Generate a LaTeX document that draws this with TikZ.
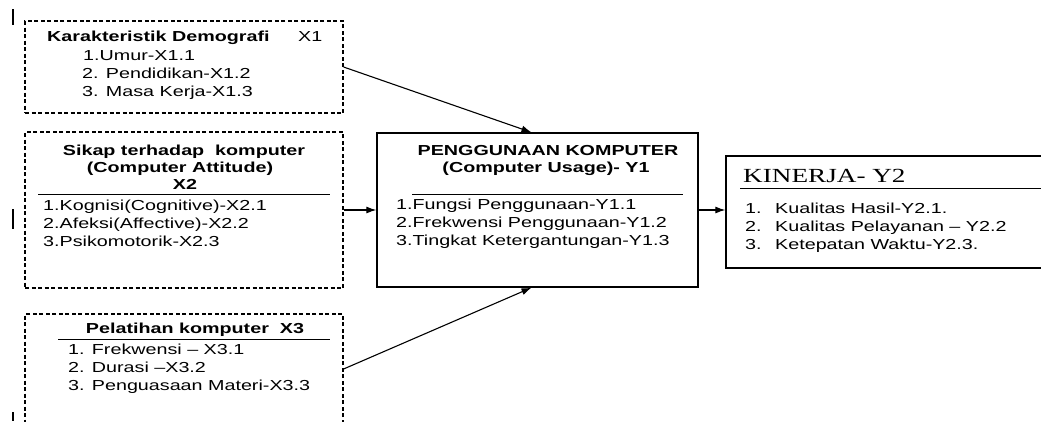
\documentclass[tikz,border=0pt]{standalone}
\usepackage{fontspec}
\setmainfont[FakeStretch=1.36]{Liberation Sans}
\newfontfamily\kinerjafont[FakeStretch=1.36]{Liberation Serif}
\usetikzlibrary{arrows.meta}
\tikzset{
  dbox/.style={draw, line width=1.2pt, dash pattern=on 4pt off 2.5pt},
  sbox/.style={draw, line width=1.3pt},
  txt/.style={inner sep=0pt, anchor=base west, font=\fontsize{14.5}{18}\selectfont},
  ttl/.style={inner sep=0pt, anchor=base, font=\fontsize{14.5}{18}\selectfont\bfseries},
  rule/.style={line width=1pt},
  arr/.style={-{Latex[length=10pt,width=7pt]}, line width=1.1pt}
}
\begin{document}
\begin{tikzpicture}[x=1pt,y=-1pt]
  \useasboundingbox (0,0) rectangle (1041,421);
  \clip (0,0) rectangle (1041,421);
  % boxes
  \node (x1) at (184,67) [dbox, minimum width=318pt, minimum height=92pt] {};
  \node (x2) at (184,210) [dbox, minimum width=318pt, minimum height=156pt] {};
  \node (x3) at (184,369) [dbox, minimum width=318pt, minimum height=110pt] {};
  \node (y1) at (537.5,210) [sbox, minimum width=321pt, minimum height=154pt] {};
  \node (y2) at (893,212) [sbox, minimum width=334pt, minimum height=112pt] {};
  % X1
  \node (x1t) at (47,41) [txt, font=\fontsize{14.5}{18}\selectfont\bfseries] {Karakteristik Demografi};
  \node (x1n) at (298,41) [txt] {X1};
  \node (x1a) at (83,60) [txt] {1.Umur-X1.1};
  \node (x1b) at (82,78) [txt] {2. Pendidikan-X1.2};
  \node (x1c) at (82,96) [txt] {3. Masa Kerja-X1.3};
  % X2
  \node (x2t) at (184,155) [ttl] {Sikap terhadap\ \ komputer};
  \node (x2u) at (180,172) [ttl] {(Computer Attitude)};
  \node (x2n) at (185,189) [ttl] {X2};
  \draw[rule] (38,194) -- (330,194);
  \node (x2a) at (43,210) [txt] {1.Kognisi(Cognitive)-X2.1};
  \node (x2b) at (43,228) [txt] {2.Afeksi(Affective)-X2.2};
  \node (x2c) at (43,246) [txt] {3.Psikomotorik-X2.3};
  % X3
  \node (x3t) at (195,333) [ttl] {Pelatihan komputer\ \ X3};
  \draw[rule] (58,339) -- (330,339);
  \node (x3a) at (68,354) [txt] {1. Frekwensi -- X3.1};
  \node (x3b) at (68,372) [txt] {2. Durasi --X3.2};
  \node (x3c) at (68,390) [txt] {3. Penguasaan Materi-X3.3};
  % Y1
  \node (y1t) at (548,155) [ttl] {PENGGUNAAN KOMPUTER};
  \node (y1u) at (546,172) [ttl] {(Computer Usage)- Y1};
  \draw[rule] (412,194) -- (683,194);
  \node (y1a) at (396,209) [txt] {1.Fungsi Penggunaan-Y1.1};
  \node (y1b) at (396,227) [txt] {2.Frekwensi Penggunaan-Y1.2};
  \node (y1c) at (396,245) [txt] {3.Tingkat Ketergantungan-Y1.3};
  % Y2
  \node (y2t) at (743,182) [inner sep=0pt, anchor=base west, font=\fontsize{20}{24}\kinerjafont] {KINERJA- Y2};
  \draw[rule] (740,188) -- (1041,188);
  \node (y2a) at (745,213) [txt] {1.};
  \node (y2b) at (745,231) [txt] {2.};
  \node (y2c) at (745,249) [txt] {3.};
  \node (y2d) at (775,213) [txt] {Kualitas Hasil-Y2.1.};
  \node (y2e) at (775,231) [txt] {Kualitas Pelayanan -- Y2.2};
  \node (y2f) at (775,249) [txt] {Ketepatan Waktu-Y2.3.};
  % arrows
  \draw[arr] (x1.east) -- ([xshift=-6pt]y1.north);
  \draw[arr] (x2.east) -- (y1.west);
  \draw[arr] (x3.east) -- ([xshift=-6pt]y1.south);
  \draw[arr] (y1.east) -- (y1.east -| y2.west);
  % marks at the margin
  \draw[line width=1.5pt] (13,9) -- (13,25);
  \draw[line width=1.5pt] (13,209) -- (13,229);
  \draw[line width=1.5pt] (13,412) -- (13,421);
\end{tikzpicture}
\end{document}
